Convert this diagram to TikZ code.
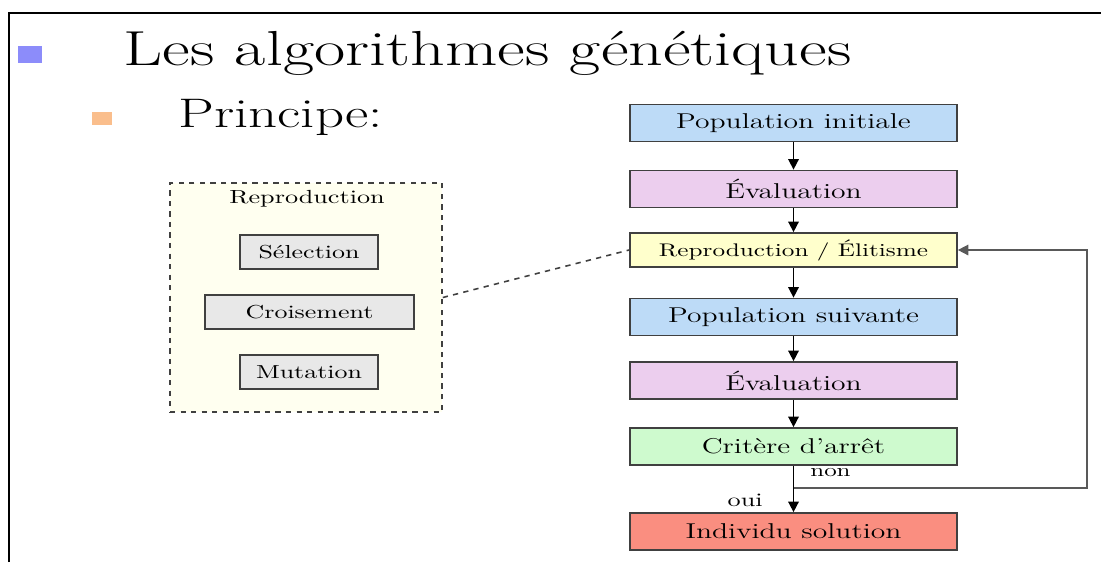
\documentclass[tikz,border=0pt]{standalone}
\usepackage{tikz}
\usepackage{graphicx}
\usepackage{xcolor}
\usetikzlibrary{arrows.meta}

\definecolor{bluebox}{RGB}{189,219,247}
\definecolor{pinkbox}{RGB}{236,206,238}
\definecolor{yellowbox}{RGB}{255,255,204}
\definecolor{greenbox}{RGB}{206,250,206}
\definecolor{redbox}{RGB}{250,142,128}
\definecolor{greybox}{RGB}{232,232,232}
\definecolor{paleyellow}{RGB}{255,255,240}
\definecolor{bulletblue}{RGB}{140,140,250}
\definecolor{bulletorange}{RGB}{250,190,140}

% the slide text is set wide
\newcommand{\wide}[1]{\scalebox{1.38}[1]{#1}}

\tikzset{
  flowbox/.style={draw=black!75,line width=1pt,minimum width=6.54cm,minimum height=0.74cm,
    inner sep=0pt,font=\fontsize{12.2}{14}\selectfont},
  opbox/.style={draw=black!75,line width=0.9pt,fill=greybox,minimum height=0.68cm,
    inner sep=0pt,font=\fontsize{10.7}{13}\selectfont},
  flowarrow/.style={-{Triangle[length=6pt,width=6pt]},line width=0.9pt},
}

\begin{document}
\begin{tikzpicture}[x=0.02cm,y=-0.02cm,every node/.style={font=\small}]
\useasboundingbox (0,0) rectangle (1101,562);
% frame of the slide
\draw[line width=1.6pt] (9,562) -- (9,13) -- (1101,13);

% title and sub-title
\fill[bulletblue] (18,46) rectangle (42,63);
\node[anchor=base west,inner sep=0pt,font=\fontsize{28}{32}\selectfont] (titre) at (123,65) {\wide{Les algorithmes génétiques}};
\fill[bulletorange] (92,112) rectangle (112,125);
\node[anchor=base west,inner sep=0pt,font=\fontsize{23.5}{28}\selectfont] (principe) at (178,127) {\wide{Principe:}};

% detail of the reproduction step
\node[draw=black!75,dashed,line width=0.9pt,fill=paleyellow,minimum width=5.44cm,minimum height=4.58cm] (detail) at (306,297.5) {};
\node[font=\fontsize{10.8}{13}\selectfont] (titredetail) at (307,199) {\wide{Reproduction}};
\node[opbox,minimum width=2.76cm] (selection) at (309,252) {\wide{Sélection}};
\node[opbox,minimum width=4.18cm] (croisement) at (309.5,312) {\wide{Croisement}};
\node[opbox,minimum width=2.76cm] (mutation) at (309,372) {\wide{Mutation}};

% flowchart
\node[flowbox,fill=bluebox] (popinit) at (793.5,123) {\wide{Population initiale}};
\node[flowbox,fill=pinkbox] (eval1) at (793.5,189) {\wide{Évaluation}};
\node[flowbox,fill=yellowbox,minimum height=0.68cm,font=\fontsize{10.4}{12}\selectfont] (repro) at (793.5,250) {\wide{Reproduction / Élitisme}};
\node[flowbox,fill=bluebox] (popsuiv) at (793.5,317) {\wide{Population suivante}};
\node[flowbox,fill=pinkbox] (eval2) at (793.5,380.5) {\wide{Évaluation}};
\node[flowbox,fill=greenbox] (critere) at (793.5,446.5) {\wide{Critère d'arrêt}};
\node[flowbox,fill=redbox] (solution) at (793.5,531.5) {\wide{Individu solution}};

\draw[flowarrow] (popinit) -- (eval1);
\draw[flowarrow] (eval1) -- (repro);
\draw[flowarrow] (repro) -- (popsuiv);
\draw[flowarrow] (popsuiv) -- (eval2);
\draw[flowarrow] (eval2) -- (critere);
\draw[flowarrow] (critere) -- (solution);

% loop back when the criterion fails
\coordinate (split) at (793.5,488);
\coordinate (retour) at (1087,250);
\draw[flowarrow,black!65] (split) -| (retour) -- (repro);
\node[anchor=west,inner sep=0pt,font=\fontsize{10.3}{12}\selectfont] (non) at (810,473) {\wide{non}};
\node[anchor=east,inner sep=0pt,font=\fontsize{10.8}{12}\selectfont] (oui) at (763,500) {\wide{oui}};

% link between the step and its detail
\draw[dashed,line width=0.9pt,black!75] (detail.east) -- (repro.west);
\end{tikzpicture}
\end{document}
